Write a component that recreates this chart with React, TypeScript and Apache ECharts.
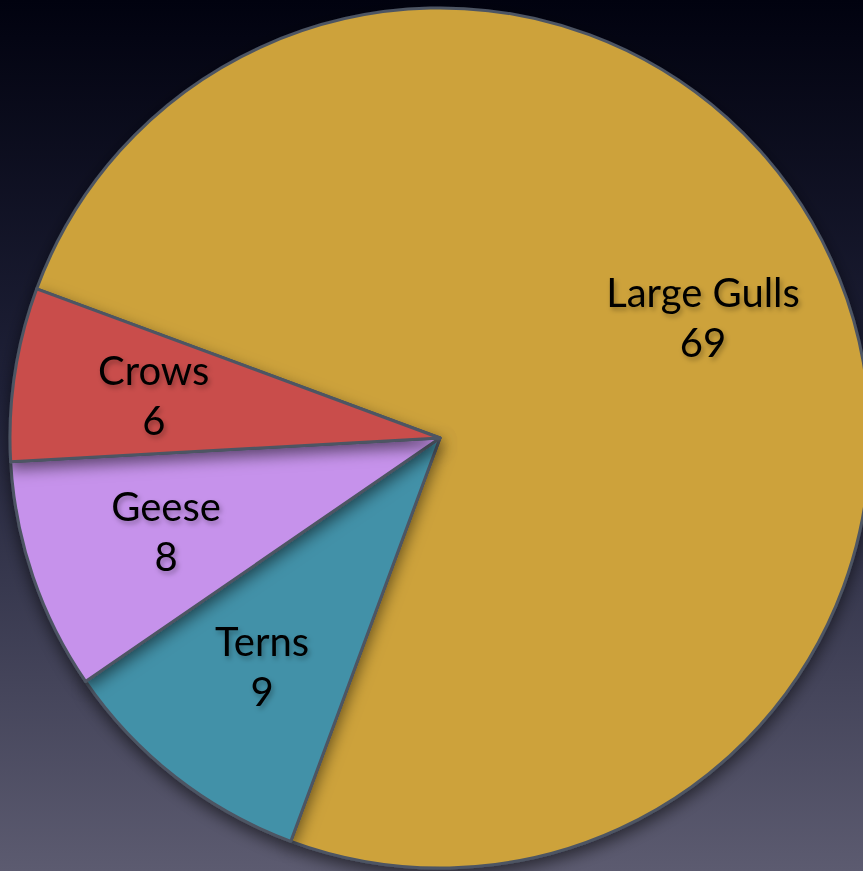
import React, { useEffect, useRef } from "react";
import * as echarts from "echarts";

const categories = ["Large Gulls", "Terns", "Geese", "Crows"];
const values = [69, 9, 8, 6];
const colors = ["#CDA23A", "#4391A8", "#C692EB", "#C94E4B"];

export default function App() {
  const ref = useRef<HTMLDivElement>(null);
  useEffect(() => {
    const chart = echarts.init(ref.current!, null, { renderer: "svg" });
    const data = categories.map((name, i) => ({
      name,
      value: values[i],
      itemStyle: { color: colors[i] },
    }));
    chart.setOption({
      animation: false,
      backgroundColor: {
        type: "linear",
        x: 0,
        y: 0,
        x2: 0,
        y2: 1,
        colorStops: [
          { offset: 0, color: "#01020f" },
          { offset: 0.45, color: "#1f2138" },
          { offset: 1, color: "#5c5b70" },
        ],
      },
      series: [
        {
          type: "pie",
          center: [440, 438],
          radius: [0, 430],
          startAngle: 159.7,
          clockwise: true,
          silent: true,
          label: { show: false },
          labelLine: { show: false },
          itemStyle: {
            borderColor: "#4d5563",
            borderWidth: 3,
            shadowBlur: 16,
            shadowOffsetY: 6,
            shadowColor: "rgba(0,0,0,0.55)",
          },
          data,
        },
        {
          type: "pie",
          center: [440, 438],
          radius: [143, 430],
          startAngle: 159.7,
          clockwise: true,
          silent: true,
          itemStyle: { color: "rgba(0,0,0,0)", borderWidth: 0 },
          labelLine: { show: false },
          label: {
            show: true,
            position: "inside",
            formatter: "{b}\n{c}",
            color: "#000000",
            fontFamily: "Lato",
            fontSize: 40,
            lineHeight: 50,
            textShadowColor: "rgba(0,0,0,0.3)",
            textShadowBlur: 5,
            textShadowOffsetX: 2,
            textShadowOffsetY: 3,
          },
          data: categories.map((name, i) => ({ name, value: values[i] })),
        },
      ],
    });
    return () => chart.dispose();
  }, []);
  return (
    <div
      ref={ref}
      style={{ position: "fixed", left: 0, top: 0, width: 863, height: 871 }}
    />
  );
}
